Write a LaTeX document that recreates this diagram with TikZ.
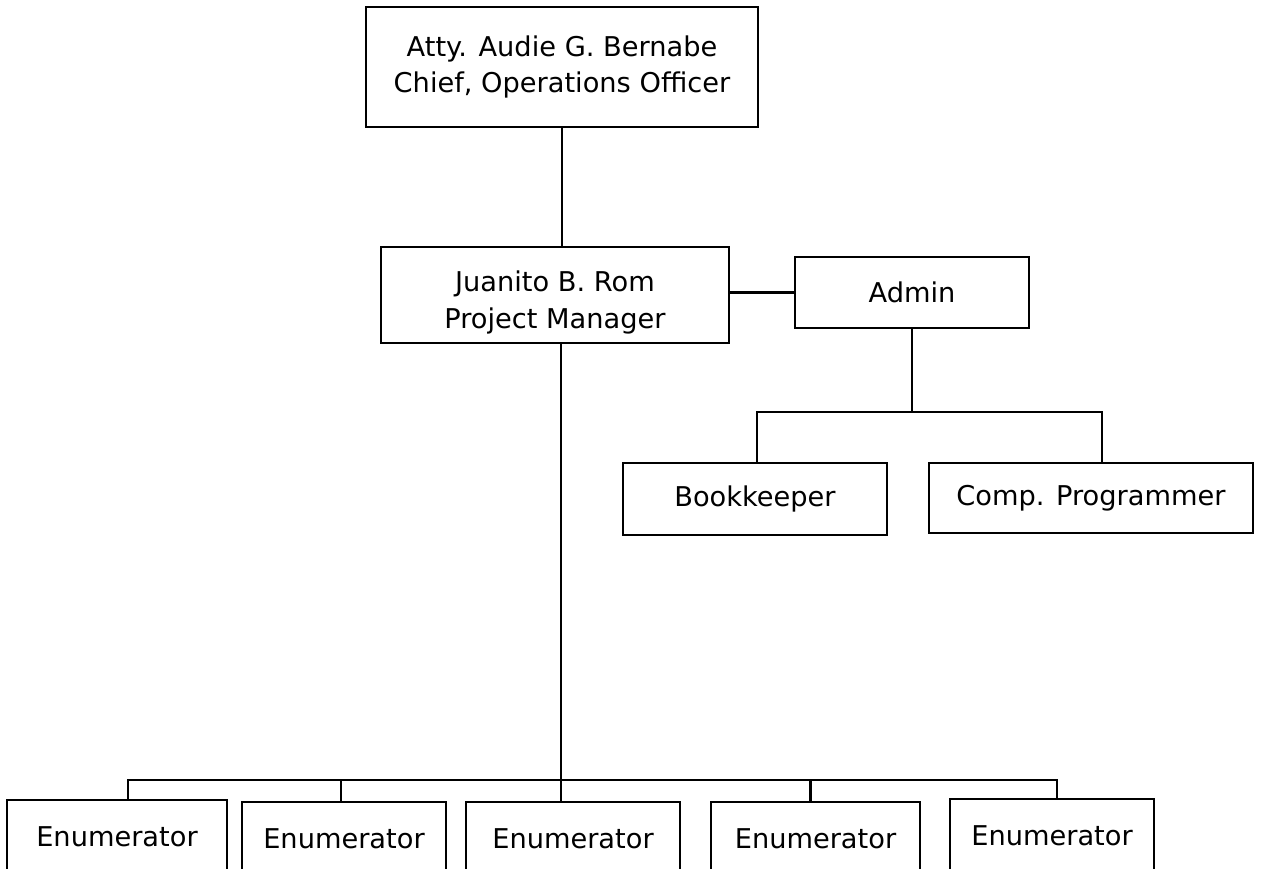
\documentclass[tikz,border=0pt]{standalone}
\usepackage{fontspec}
\setmainfont{DejaVu Sans}
\usepackage{tikz}
\usetikzlibrary{positioning}
\tikzstyle{box} = [draw, rectangle, line width=1.2pt, align=center,
    inner sep=0pt, font=\fontsize{15.5}{21}\selectfont]

\begin{document}
\begin{tikzpicture}[x=0.02cm,y=-0.02cm,line width=1.2pt]
\useasboundingbox (0,0) rectangle (1262,869);
\clip (0,0) rectangle (1262,869);
\def\u{0.02cm}
\tikzstyle{enum} = [box, minimum height=74*\u];

% top
\node[box, minimum width=392*\u, minimum height=120*\u] (coo) at (562,67)
    {Atty. Audie G. Bernabe\\Chief, Operations Officer};
\node[box, minimum width=348*\u, minimum height=96*\u] (pm) at (555,295)
    {\rule{0pt}{0.72cm}Juanito B. Rom\\Project Manager};
\node[box, minimum width=234*\u, minimum height=71*\u] (admin) at (912,292.5) {Admin};
\node[box, minimum width=264*\u, minimum height=72*\u] (book) at (755,499) {Bookkeeper};
\node[box, minimum width=324*\u, minimum height=70*\u] (comp) at (1091,498) {Comp. Programmer};

% enumerators
\node[enum, minimum width=220*\u] (e1) at (117,837) {Enumerator};
\node[enum, minimum width=204*\u] (e2) at (344,839) {Enumerator};
\node[enum, minimum width=214*\u] (e3) at (573,839) {Enumerator};
\node[enum, minimum width=209*\u] (e4) at (815.5,839) {Enumerator};
\node[enum, minimum width=204*\u] (e5) at (1052,836) {Enumerator};

\coordinate (abar) at (912,412);
\coordinate (ebar) at (561,780);

\draw (coo.south) -- (coo.south |- pm.north);
\draw (admin.west) -- (admin.west -| pm.east);
\draw (admin.south) -- (abar);
\draw ([xshift=2*\u]book.north) |- (abar) -| ([xshift=11*\u]comp.north);
\draw (pm.south -| ebar) -- (ebar);
\draw ([xshift=11*\u]e1.north) |- (ebar) -| ([xshift=5*\u]e5.north);
\foreach \n/\s in {e2/-3,e3/-12,e4/-5}
    \draw ([xshift=\s*\u]\n.north) -- ++(0,-22);

\end{tikzpicture}
\end{document}
